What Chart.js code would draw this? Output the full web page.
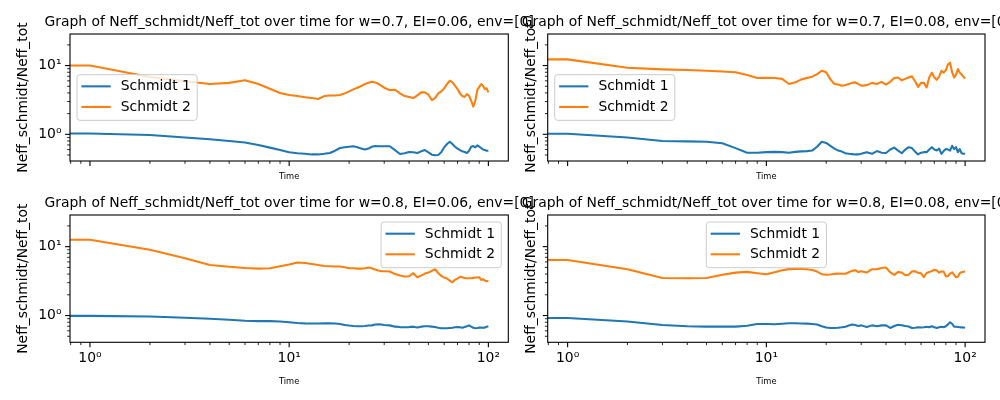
<!DOCTYPE html>
<html>
<head>
<meta charset="utf-8">
<script src="https://cdn.jsdelivr.net/npm/chart.js@4.4.1/dist/chart.umd.min.js"></script>
<style>
  html, body { margin: 0; padding: 0; background: #fff; }
  #fig { position: relative; width: 1000px; height: 400px; overflow: hidden; background: #fff; }
  #fig canvas { position: absolute; left: 0; top: 0; }
</style>
</head>
<body>
<div id="fig">
  <canvas id="ax00" width="1000" height="400"></canvas>
  <canvas id="ax01" width="1000" height="400"></canvas>
  <canvas id="ax10" width="1000" height="400"></canvas>
  <canvas id="ax11" width="1000" height="400"></canvas>
</div>
<script>
// Neff_schmidt / Neff_tot over time, 2x2 grid (w x EI)
const time = [0, 1, 2, 3, 4, 5, 6, 7, 8, 9, 10, 11, 12, 13, 14, 15, 16, 17, 18, 19,
  20, 21, 22, 23, 24, 25, 26, 27, 28, 29, 30, 32, 34, 36, 38, 40, 42, 44, 46, 48,
  50, 52, 54, 56, 58, 60, 62, 64, 66, 68, 70, 72, 74, 76, 78, 80, 82, 84, 86, 88,
  90, 92, 94, 96, 98, 100];

// w=0.7, EI=0.06
const w07_ei06_schmidt1 = [1.03, 1.03, 0.98, 0.9, 0.85, 0.8, 0.76, 0.7, 0.64, 0.59,
  0.55, 0.53, 0.52, 0.51, 0.51, 0.52, 0.535, 0.578, 0.632, 0.647,
  0.66, 0.67, 0.647, 0.62, 0.6, 0.62, 0.66, 0.676, 0.67, 0.67,
  0.67, 0.67, 0.59, 0.517, 0.53, 0.553, 0.547, 0.535, 0.565, 0.59,
  0.547, 0.506, 0.495, 0.5, 0.547, 0.647, 0.723, 0.78, 0.723, 0.66,
  0.62, 0.59, 0.565, 0.553, 0.535, 0.578, 0.66, 0.676, 0.647, 0.69,
  0.66, 0.632, 0.6, 0.59, 0.578, 0.578];
const w07_ei06_schmidt2 = [10.0, 10.0, 6.8, 5.9, 5.4, 5.6, 6.1, 5.4, 4.6, 4.0,
  3.73, 3.6, 3.47, 3.37, 3.26, 3.6, 3.68, 3.68, 3.73, 3.94,
  4.21, 4.5, 4.77, 5.04, 5.38, 5.63, 5.82, 5.69, 5.43, 5.09,
  4.77, 4.4, 4.45, 3.94, 3.6, 3.5, 3.37, 3.68, 4.07, 4.07,
  3.77, 3.15, 3.37, 3.94, 4.21, 4.66, 5.38, 6.02, 5.69, 5.09,
  4.55, 3.94, 3.6, 3.5, 3.85, 3.64, 3.08, 2.52, 3.08, 4.4,
  4.9, 5.38, 5.09, 4.55, 4.66, 4.07];

// w=0.7, EI=0.08
const w07_ei08_schmidt1 = [1.02, 1.02, 0.9, 0.8, 0.79, 0.78, 0.74, 0.63, 0.54, 0.54,
  0.55, 0.555, 0.55, 0.54, 0.555, 0.565, 0.57, 0.58, 0.66, 0.78,
  0.75, 0.68, 0.62, 0.58, 0.56, 0.53, 0.52, 0.515, 0.51, 0.51,
  0.52, 0.55, 0.52, 0.57, 0.54, 0.535, 0.6, 0.64, 0.58, 0.53,
  0.6, 0.65, 0.63, 0.56, 0.51, 0.54, 0.55, 0.55, 0.6, 0.65,
  0.6, 0.58, 0.62, 0.52, 0.57, 0.61, 0.6, 0.58, 0.68, 0.61,
  0.65, 0.55, 0.61, 0.53, 0.52, 0.52];
const w07_ei08_schmidt2 = [12.3, 12.3, 9.3, 8.8, 8.6, 8.4, 8.2, 8.0, 7.3, 6.6,
  6.65, 6.6, 6.4, 5.4, 5.7, 6.3, 6.6, 6.9, 7.5, 8.4,
  8.0, 6.3, 5.4, 5.3, 5.1, 5.2, 5.4, 5.6, 5.7, 5.4,
  5.1, 5.2, 5.6, 5.4, 5.8, 5.3, 5.8, 6.6, 6.7, 6.1,
  6.4, 6.7, 7.0, 5.9, 4.9, 5.6, 5.6, 4.8, 6.7, 7.9,
  6.7, 6.2, 6.9, 8.4, 7.9, 8.6, 10.4, 11.0, 8.0, 6.7,
  7.4, 8.9, 7.9, 7.4, 6.9, 6.5];

// w=0.8, EI=0.06
const w08_ei06_schmidt1 = [0.99, 0.99, 0.97, 0.93, 0.9, 0.87, 0.84, 0.83, 0.83, 0.82,
  0.8, 0.78, 0.77, 0.765, 0.765, 0.77, 0.77, 0.765, 0.755, 0.73,
  0.715, 0.705, 0.7, 0.7, 0.705, 0.715, 0.72, 0.74, 0.745, 0.74,
  0.73, 0.72, 0.69, 0.68, 0.675, 0.68, 0.69, 0.67, 0.69, 0.7,
  0.7, 0.69, 0.68, 0.665, 0.655, 0.653, 0.655, 0.66, 0.665, 0.675,
  0.68, 0.675, 0.665, 0.68, 0.7, 0.72, 0.69, 0.665, 0.655, 0.66,
  0.668, 0.668, 0.665, 0.668, 0.69, 0.7];
const w08_ei06_schmidt2 = [12.6, 12.6, 9.0, 6.8, 5.4, 5.1, 4.9, 4.8, 4.85, 5.2,
  5.5, 5.9, 5.8, 5.6, 5.4, 5.25, 5.2, 5.14, 5.14, 5.03,
  4.86, 4.86, 4.8, 4.8, 4.86, 4.97, 4.86, 4.65, 4.5, 4.4,
  4.4, 4.35, 4.0, 3.8, 3.68, 3.72, 4.12, 3.6, 3.8, 4.07,
  4.2, 4.45, 4.7, 4.15, 3.76, 3.56, 3.45, 3.2, 3.04, 3.3,
  3.45, 3.65, 3.6, 3.5, 3.48, 3.48, 3.48, 3.52, 3.56, 3.56,
  3.6, 3.29, 3.37, 3.22, 3.15, 3.18];

// w=0.8, EI=0.08
const w08_ei08_schmidt1 = [0.92, 0.92, 0.82, 0.73, 0.7, 0.69, 0.69, 0.69, 0.71, 0.755,
  0.755, 0.748, 0.76, 0.772, 0.772, 0.768, 0.763, 0.755, 0.742, 0.7,
  0.672, 0.66, 0.66, 0.665, 0.675, 0.688, 0.715, 0.74, 0.728, 0.706,
  0.72, 0.68, 0.72, 0.7, 0.72, 0.72, 0.66, 0.705, 0.735, 0.725,
  0.703, 0.692, 0.66, 0.665, 0.675, 0.67, 0.677, 0.687, 0.676, 0.7,
  0.675, 0.66, 0.677, 0.687, 0.677, 0.7, 0.745, 0.8, 0.76, 0.69,
  0.686, 0.682, 0.677, 0.673, 0.669, 0.665];
const w08_ei08_schmidt2 = [6.4, 6.4, 4.7, 3.5, 3.48, 3.5, 3.9, 4.2, 4.3, 4.12,
  3.98, 4.25, 4.55, 4.72, 4.76, 4.74, 4.7, 4.57, 4.35, 3.98,
  3.92, 3.94, 4.03, 4.06, 4.04, 4.05, 4.25, 4.45, 4.55, 4.27,
  4.38, 4.2, 4.7, 4.72, 4.9, 4.97, 4.25, 3.9, 4.3, 4.2,
  3.85, 3.9, 4.38, 4.4, 4.17, 4.1, 3.6, 4.15, 4.27, 4.42,
  4.62, 4.5, 4.2, 4.35, 4.35, 3.7, 3.75, 4.07, 4.25, 3.9,
  3.6, 3.65, 4.12, 4.26, 4.33, 4.35];

const seriesLabels = ['Schmidt 1', 'Schmidt 2'];
const xTickValues = [0.8, 0.9, 1, 2, 3, 4, 5, 6, 7, 8, 9, 10, 20, 30, 40, 50, 60, 70, 80, 90, 100];
const xMajorTicks = [1, 10, 100];
const yTickValues = [0.5, 0.6, 0.7, 0.8, 0.9, 1, 2, 3, 4, 5, 6, 7, 8, 9, 10, 20];
const yMajorTicks = [1, 10];
const tickText = { 1: '10\u2070', 10: '10\u00B9', 100: '10\u00B2' };

const BLUE = '#1f77b4';
const ORANGE = '#ff7f0e';
const FONT = '"DejaVu Sans", sans-serif';
const FS = 13.9;
const YAXIS_W = 40, XAXIS_H = 30;

Chart.defaults.font.family = FONT;
Chart.defaults.color = '#000';

function setTicks(scale, values, majors) {
  scale.ticks = values
    .filter(v => v >= scale.min && v <= scale.max)
    .map(v => ({ value: v, major: majors.includes(v) }));
}

function legendBox(ctx, x, y, w, h, r) {
  ctx.beginPath();
  ctx.moveTo(x + r, y);
  ctx.arcTo(x + w, y, x + w, y + h, r);
  ctx.arcTo(x + w, y + h, x, y + h, r);
  ctx.arcTo(x, y + h, x, y, r);
  ctx.arcTo(x, y, x + w, y, r);
  ctx.closePath();
}

// spines, tick marks, title, axis labels and the in-axes legend
const panelDecor = {
  id: 'panelDecor',
  afterDraw(chart, args, o) {
    const ctx = chart.ctx;
    const a = chart.chartArea;
    const xs = chart.scales.x, ys = chart.scales.y;
    ctx.save();
    ctx.strokeStyle = '#000';
    xs.ticks.forEach(t => {
      const p = xs.getPixelForValue(t.value);
      ctx.lineWidth = t.major ? 1.1 : 0.85;
      ctx.beginPath();
      ctx.moveTo(p, a.bottom);
      ctx.lineTo(p, a.bottom + (t.major ? 4.9 : 2.8));
      ctx.stroke();
    });
    ys.ticks.forEach(t => {
      const p = ys.getPixelForValue(t.value);
      ctx.lineWidth = t.major ? 1.1 : 0.85;
      ctx.beginPath();
      ctx.moveTo(a.left, p);
      ctx.lineTo(a.left - (t.major ? 4.9 : 2.8), p);
      ctx.stroke();
    });
    ctx.lineWidth = 1.1;
    ctx.strokeRect(a.left, a.top, a.right - a.left, a.bottom - a.top);

    ctx.fillStyle = '#000';
    ctx.font = FS + 'px ' + FONT;
    ctx.textAlign = 'center';
    ctx.textBaseline = 'alphabetic';
    ctx.fillText(o.title, (a.left + a.right) / 2, a.top - 8);

    ctx.save();
    ctx.translate(a.left - o.yLabelOffset, (a.top + a.bottom) / 2);
    ctx.rotate(-Math.PI / 2);
    ctx.fillText('Neff_schmidt/Neff_tot', 0, 0);
    ctx.restore();

    ctx.font = '8.3px ' + FONT;
    ctx.fillText('Time', (a.left + a.right) / 2, a.bottom + o.xLabelOffset);

    // legend
    ctx.font = FS + 'px ' + FONT;
    const sets = chart.data.datasets;
    const textW = Math.max(...sets.map(d => ctx.measureText(d.label).width));
    const w = 43.7 + textW + 6.3, h = 45.7, pad = 7;
    let lx, ly;
    if (o.legendLoc === 'center left') {
      lx = a.left + pad; ly = (a.top + a.bottom) / 2 - h / 2;
    } else if (o.legendLoc === 'upper right') {
      lx = a.right - pad - w; ly = a.top + pad;
    } else {
      lx = (a.left + a.right) / 2 - w / 2; ly = a.top + pad;
    }
    legendBox(ctx, lx, ly, w, h, 3);
    ctx.fillStyle = 'rgba(255,255,255,0.8)';
    ctx.fill();
    ctx.strokeStyle = '#cccccc';
    ctx.lineWidth = 1;
    ctx.stroke();
    sets.forEach((d, i) => {
      const cy = ly + 11.7 + i * 20.6;
      ctx.strokeStyle = d.borderColor;
      ctx.lineWidth = 2.08;
      ctx.beginPath();
      ctx.moveTo(lx + 4.4, cy);
      ctx.lineTo(lx + 33.7, cy);
      ctx.stroke();
      ctx.fillStyle = '#000';
      ctx.textAlign = 'left';
      ctx.textBaseline = 'middle';
      ctx.fillText(d.label, lx + 43.7, cy + 0.5);
    });
    ctx.restore();
  }
};

const panels = [
  { id: 'ax00', w: '0.7', ei: '0.06', s1: w07_ei06_schmidt1, s2: w07_ei06_schmidt2,
    area: { left: 70, top: 34, right: 508.3, bottom: 161 }, legendLoc: 'center left',
    xLabels: false, yLabels: true, yLabelOffset: 42.6, xLabelOffset: 18 },
  { id: 'ax01', w: '0.7', ei: '0.08', s1: w07_ei08_schmidt1, s2: w07_ei08_schmidt2,
    area: { left: 547.7, top: 34, right: 985, bottom: 161 }, legendLoc: 'center left',
    xLabels: false, yLabels: false, yLabelOffset: 12.5, xLabelOffset: 18 },
  { id: 'ax10', w: '0.8', ei: '0.06', s1: w08_ei06_schmidt1, s2: w08_ei06_schmidt2,
    area: { left: 70, top: 215, right: 508.3, bottom: 342.3 }, legendLoc: 'upper right',
    xLabels: true, yLabels: true, yLabelOffset: 42.6, xLabelOffset: 41.2 },
  { id: 'ax11', w: '0.8', ei: '0.08', s1: w08_ei08_schmidt1, s2: w08_ei08_schmidt2,
    area: { left: 547.7, top: 215, right: 985, bottom: 342.3 }, legendLoc: 'upper center',
    xLabels: true, yLabels: false, yLabelOffset: 12.5, xLabelOffset: 41.2 }
];

panels.forEach(p => {
  const a = p.area;
  new Chart(document.getElementById(p.id), {
    type: 'line',
    data: {
      datasets: [
        { label: seriesLabels[0], data: time.map((t, i) => ({ x: t, y: p.s1[i] })),
          borderColor: BLUE, backgroundColor: BLUE },
        { label: seriesLabels[1], data: time.map((t, i) => ({ x: t, y: p.s2[i] })),
          borderColor: ORANGE, backgroundColor: ORANGE }
      ]
    },
    options: {
      responsive: false,
      animation: false,
      events: [],
      layout: {
        padding: { left: a.left - YAXIS_W, top: a.top, right: 1000 - a.right, bottom: 400 - a.bottom - XAXIS_H }
      },
      elements: {
        point: { radius: 0 },
        line: { tension: 0, borderWidth: 2.08, borderJoinStyle: 'round', borderCapStyle: 'butt', fill: false }
      },
      scales: {
        x: {
          type: 'logarithmic', position: 'bottom', min: 0.794, max: 125.9, bounds: 'data',
          afterBuildTicks: s => setTicks(s, xTickValues, xMajorTicks),
          afterFit: s => { s.height = XAXIS_H; },
          grid: { display: false, drawTicks: true, tickLength: 5 },
          border: { display: false },
          ticks: { autoSkip: false, maxRotation: 0, minRotation: 0, padding: 3, color: '#000',
                   font: { size: FS },
                   callback: v => (p.xLabels && tickText[v]) ? tickText[v] : '' }
        },
        y: {
          type: 'logarithmic', position: 'left', min: 0.409, max: 28.8, bounds: 'data',
          afterBuildTicks: s => setTicks(s, yTickValues, yMajorTicks),
          afterFit: s => { s.width = YAXIS_W; },
          grid: { display: false, drawTicks: true, tickLength: 5 },
          border: { display: false },
          ticks: { autoSkip: false, padding: 3.5, color: '#000',
                   font: { size: FS },
                   callback: v => (p.yLabels && tickText[v]) ? tickText[v] : '' }
        }
      },
      plugins: {
        legend: { display: false },
        tooltip: { enabled: false },
        panelDecor: {
          title: 'Graph of Neff_schmidt/Neff_tot over time for w=' + p.w + ', EI=' + p.ei + ', env=[0]',
          legendLoc: p.legendLoc,
          yLabelOffset: p.yLabelOffset,
          xLabelOffset: p.xLabelOffset
        }
      }
    },
    plugins: [panelDecor]
  });
});
</script>
</body>
</html>
